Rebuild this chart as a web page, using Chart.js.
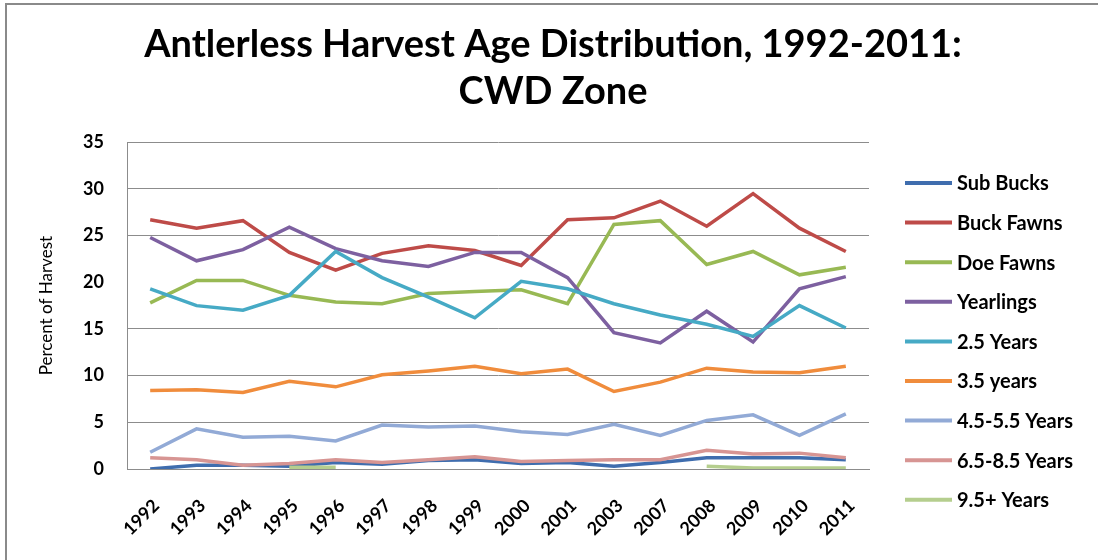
<!DOCTYPE html>
<html>
<head>
<meta charset="utf-8">
<script src="https://cdn.jsdelivr.net/npm/chart.js@4.4.0/dist/chart.umd.min.js"></script>
<style>
  body { margin: 0; background: #fff; }
  #wrap { position: relative; width: 1098px; height: 560px; }
  #frame { position: absolute; left: 5px; top: 3px; width: 1093px; height: 557px;
           border-top: 2px solid #8a8a8a; border-left: 2px solid #8a8a8a; box-sizing: border-box; pointer-events: none; }
</style>
</head>
<body>
<div id="wrap">
  <canvas id="ageChart" width="1098" height="560"></canvas>
  <div id="frame"></div>
</div>
<script>
var years = ['1992', '1993', '1994', '1995', '1996', '1997', '1998', '1999', '2000', '2001', '2003', '2007', '2008', '2009', '2010', '2011'];

var subBucks   = [0.0, 0.4, 0.4, 0.3, 0.7, 0.5, 0.9, 1.0, 0.6, 0.7, 0.3, 0.7, 1.2, 1.2, 1.2, 1.0];
var buckFawns  = [26.7, 25.8, 26.6, 23.2, 21.3, 23.1, 23.9, 23.4, 21.8, 26.7, 26.9, 28.7, 26.0, 29.5, 25.8, 23.3];
var doeFawns   = [17.8, 20.2, 20.2, 18.6, 17.9, 17.7, 18.8, 19.0, 19.2, 17.7, 26.2, 26.6, 21.9, 23.3, 20.8, 21.6];
var yearlings  = [24.8, 22.3, 23.5, 25.9, 23.6, 22.3, 21.7, 23.2, 23.2, 20.5, 14.6, 13.5, 16.9, 13.6, 19.3, 20.6];
var years2_5   = [19.3, 17.5, 17.0, 18.6, 23.3, 20.5, 18.4, 16.2, 20.1, 19.3, 17.7, 16.5, 15.5, 14.2, 17.5, 15.1];
var years3_5   = [8.4, 8.5, 8.2, 9.4, 8.8, 10.1, 10.5, 11.0, 10.2, 10.7, 8.3, 9.3, 10.8, 10.4, 10.3, 11.0];
var years4_5   = [1.8, 4.3, 3.4, 3.5, 3.0, 4.7, 4.5, 4.6, 4.0, 3.7, 4.8, 3.6, 5.2, 5.8, 3.6, 5.9];
var years6_5   = [1.2, 1.0, 0.4, 0.6, 1.0, 0.7, 1.0, 1.3, 0.8, 0.9, 1.0, 1.0, 2.0, 1.6, 1.7, 1.2];
var years9_5   = [null, null, null, 0.2, 0.2, null, null, null, null, null, null, null, 0.3, 0.1, 0.1, 0.1];

var seriesNames = ['Sub Bucks', 'Buck Fawns', 'Doe Fawns', 'Yearlings', '2.5 Years', '3.5 years', '4.5-5.5 Years', '6.5-8.5 Years', '9.5+ Years'];
var seriesData = [subBucks, buckFawns, doeFawns, yearlings, years2_5, years3_5, years4_5, years6_5, years9_5];
var colors = ['#3F6DAE', '#BE4B48', '#98B954', '#7D60A0', '#46AAC5', '#F08C3C', '#92AAD6', '#D79593', '#B5CE8E'];

var yTicks = [0, 5, 10, 15, 20, 25, 30, 35];

var FONT = 'Lato, "Open Sans", sans-serif';

var datasets = seriesNames.map(function (name, i) {
    return {
        label: name,
        data: seriesData[i],
        borderColor: colors[i],
        backgroundColor: colors[i],
        borderWidth: 3.5,
        pointRadius: 0,
        tension: 0,
        spanGaps: false,
        yAxisID: 'y',
        order: seriesNames.length - 1 - i
    };
});

// legend drawn at the right, Excel style
var sideLegend = {
    id: 'sideLegend',
    afterDraw: function (chart) {
        var c = chart.ctx;
        var area = chart.chartArea;
        var x0 = area.right + 36;
        var y0 = 183;
        c.save();
        c.font = 'bold 20px ' + FONT;
        c.textBaseline = 'middle';
        c.fillStyle = '#000';
        chart.data.datasets.forEach(function (ds, i) {
            var y = y0 + i * 39.6;
            c.strokeStyle = ds.borderColor;
            c.lineWidth = 4;
            c.beginPath();
            c.moveTo(x0, y);
            c.lineTo(x0 + 47, y);
            c.stroke();
            c.fillText(ds.label, x0 + 52, y + 1);
        });
        c.restore();
    }
};

var myChart = new Chart(document.getElementById('ageChart'), {
    type: 'line',
    data: {
        labels: years,
        datasets: datasets
    },
    options: {
        responsive: false,
        animation: false,
        layout: {
            padding: { left: 8, right: 0, top: 0, bottom: 0 }
        },
        plugins: {
            legend: { display: false },
            tooltip: { enabled: false },
            title: {
                display: true,
                text: ['Antlerless Harvest Age Distribution, 1992-2011:', 'CWD Zone'],
                color: '#000',
                font: { family: FONT, weight: 'bold', size: 38, lineHeight: 1.24 },
                padding: { top: 21, bottom: 27 }
            }
        },
        scales: {
            x: {
                offset: true,
                grid: { display: false },
                border: { display: true, color: '#8c8c8c', width: 1 },
                ticks: {
                    color: '#000',
                    font: { family: FONT, weight: 'bold', size: 18 },
                    minRotation: 45,
                    maxRotation: 45,
                    autoSkip: false,
                    labelOffset: 6,
                    padding: 18
                },
                afterFit: function (scale) { scale.height = 91; }
            },
            y: {
                min: 0,
                max: 35,
                afterBuildTicks: function (scale) {
                    scale.ticks = yTicks.map(function (v) { return { value: v }; });
                },
                grid: {
                    drawTicks: false,
                    color: function (ctx) {
                        return ctx.tick && ctx.tick.value === 20 ? 'rgba(0,0,0,0)' : '#8c8c8c';
                    },
                    lineWidth: 1
                },
                border: { display: true, color: '#8c8c8c', width: 1 },
                ticks: {
                    color: '#000',
                    font: { family: FONT, weight: 'bold', size: 18 },
                    padding: 23
                },
                title: {
                    display: true,
                    text: 'Percent of Harvest',
                    color: '#000',
                    font: { family: FONT, size: 17 },
                    padding: { top: 28, bottom: 0 }
                },
                afterFit: function (scale) { scale.width = 119; }
            },
            // empty axis that keeps room for the legend on the right
            legendRoom: {
                position: 'right',
                display: true,
                grid: { display: false },
                border: { display: false },
                ticks: { display: false },
                afterFit: function (scale) { scale.width = 229; }
            }
        }
    },
    plugins: [sideLegend]
});
</script>
</body>
</html>
